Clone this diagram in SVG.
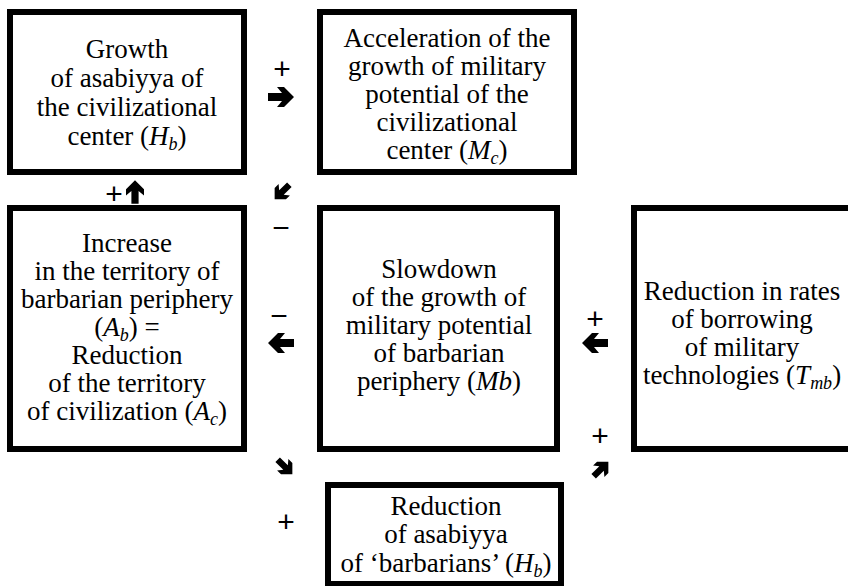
<svg xmlns="http://www.w3.org/2000/svg" width="848" height="586" viewBox="0 0 848 586">
<style>
.box{fill:#fff;stroke:#000;stroke-width:6}
.ar{fill:#000}
</style>
<defs>
<path id="arr" d="M-13,-4 L1,-4 L-4,-10 L3,-10 L13,0 L3,10 L-4,10 L1,4 L-13,4 Z"/>
</defs>
<rect width="848" height="586" fill="#fff"/>
<g font-family="Liberation Serif, Times New Roman, serif" font-size="27" fill="#000" text-anchor="middle">
<g id="n1">
<rect class="box" x="10" y="12" width="234" height="160"/>
<text x="127" y="58">Growth</text>
<text x="127" y="87">of asabiyya of</text>
<text x="127" y="116">the civilizational</text>
<text x="127" y="145">center (<tspan font-style="italic">H</tspan><tspan font-style="italic" font-size="18" dy="5">b</tspan><tspan dy="-5">)</tspan></text>
</g>
<g id="n2">
<rect class="box" x="320" y="12" width="254" height="160"/>
<text x="447" y="47">Acceleration of the</text>
<text x="447" y="75">growth of military</text>
<text x="447" y="103">potential of the</text>
<text x="447" y="131">civilizational</text>
<text x="447" y="159">center (<tspan font-style="italic">M</tspan><tspan font-style="italic" font-size="18" dy="5">c</tspan><tspan dy="-5">)</tspan></text>
</g>
<g id="n3">
<rect class="box" x="10" y="208" width="234" height="241"/>
<text x="127" y="252">Increase</text>
<text x="127" y="280">in the territory of</text>
<text x="127" y="308">barbarian periphery</text>
<text x="127" y="336">(<tspan font-style="italic">A</tspan><tspan font-style="italic" font-size="18" dy="5">b</tspan><tspan dy="-5">) =</tspan></text>
<text x="127" y="364">Reduction</text>
<text x="127" y="392">of the territory</text>
<text x="127" y="420">of civilization (<tspan font-style="italic">A</tspan><tspan font-style="italic" font-size="18" dy="5">c</tspan><tspan dy="-5">)</tspan></text>
</g>
<g id="n4">
<rect class="box" x="320" y="208" width="237" height="241"/>
<text x="439" y="278">Slowdown</text>
<text x="439" y="306">of the growth of</text>
<text x="439" y="334">military potential</text>
<text x="439" y="362">of barbarian</text>
<text x="439" y="390">periphery (<tspan font-style="italic">Mb</tspan>)</text>
</g>
<g id="n5">
<rect class="box" x="634" y="208" width="220" height="241"/>
<text x="742" y="300">Reduction in rates</text>
<text x="742" y="328">of borrowing</text>
<text x="742" y="356">of military</text>
<text x="742" y="384">technologies (<tspan font-style="italic">T</tspan><tspan font-style="italic" font-size="18" dy="5">mb</tspan><tspan dy="-5">)</tspan></text>
</g>
<g id="n6">
<rect class="box" x="328" y="485" width="233" height="99"/>
<text x="446" y="515">Reduction</text>
<text x="446" y="543">of asabiyya</text>
<text x="446" y="572">of ‘barbarians’ (<tspan font-style="italic">H</tspan><tspan font-style="italic" font-size="18" dy="5">b</tspan><tspan dy="-5">)</tspan></text>
</g>
</g>
<g id="connectors" font-family="Liberation Sans, Arial, sans-serif" font-size="30" fill="#000" text-anchor="middle">
<use href="#arr" class="ar" transform="translate(281,97)"/>
<text x="282" y="79">+</text>
<use href="#arr" class="ar" transform="translate(135,192) rotate(-90) scale(0.9)"/>
<text x="114" y="204">+</text>
<use href="#arr" class="ar" transform="translate(282,192) rotate(135) scale(0.8)"/>
<text x="281" y="238">−</text>
<use href="#arr" class="ar" transform="translate(281,343) rotate(180)"/>
<text x="279" y="326">−</text>
<use href="#arr" class="ar" transform="translate(595,343) rotate(180)"/>
<text x="595" y="329">+</text>
<use href="#arr" class="ar" transform="translate(285,467) rotate(45) scale(0.8)"/>
<text x="286" y="532">+</text>
<use href="#arr" class="ar" transform="translate(601,469) rotate(-45) scale(0.8)"/>
<text x="600" y="446">+</text>
</g>
</svg>
